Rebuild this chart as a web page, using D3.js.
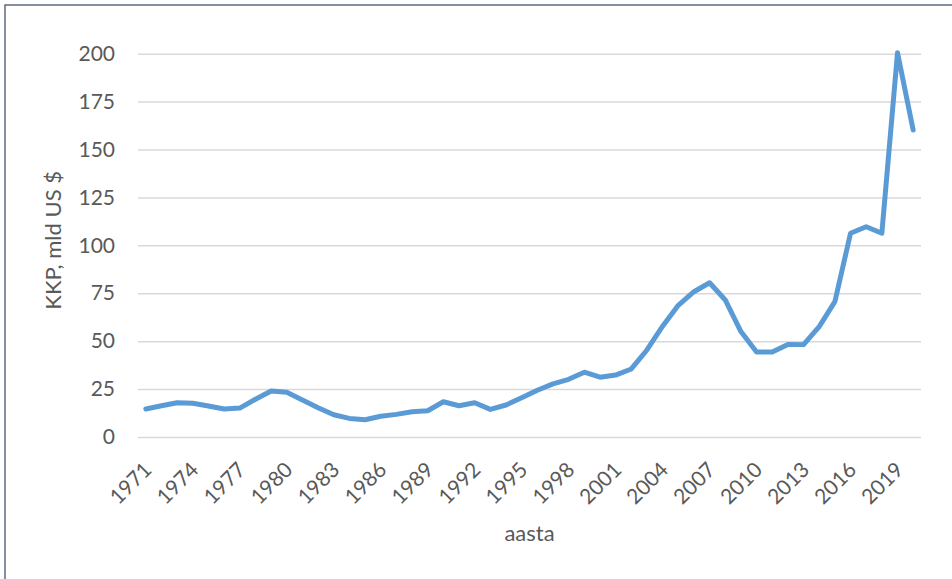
<!DOCTYPE html>
<html>
<head>
<meta charset="utf-8">
<script src="https://cdn.jsdelivr.net/npm/d3@7"></script>
<style>
  body { margin: 0; background: #fff; }
  svg text { font-family: Lato, "Open Sans", sans-serif; fill: #595959; }
</style>
</head>
<body>
<div id="chart"></div>
<script>
// yearly values, 1971..2020
const years = d3.range(1971, 2021);
const kkp = [
  14.6, 16.3, 17.9, 17.6, 16.2, 14.6, 15.1, 19.7, 24.0, 23.3,
  19.3, 15.3, 11.6, 9.7, 9.0, 10.8, 11.8, 13.2, 13.7, 18.4,
  16.3, 17.9, 14.4, 16.7, 20.5, 24.4, 27.7, 30.1, 33.8, 31.2,
  32.3, 35.5, 45.4, 57.8, 68.7, 75.8, 80.5, 71.5, 55.0, 44.4,
  44.4, 48.3, 48.2, 57.6, 70.6, 106.3, 109.7, 106.3, 200.5, 160.2
];
const yTicks = [0, 25, 50, 75, 100, 125, 150, 175, 200];
const xTickYears = years.filter(y => (y - 1971) % 3 === 0);

const width = 952, height = 579;
let margin = {top: 53.7, left: 138, right: 31, bottom: 142};

const svg = d3.select('#chart').append('svg')
  .attr('width', width)
  .attr('height', height);

// chart frame (only left/top edges visible)
svg.append('rect')
  .attr('x', 5).attr('y', 5)
  .attr('width', 960).attr('height', 600)
  .attr('fill', 'none')
  .attr('stroke', '#44546a')
  .attr('stroke-width', 1.3);

const g = svg.append('g')
  .attr('transform', `translate(${margin.left},${margin.top})`);

const innerW = width - margin.left - margin.right;
const innerH = height - margin.top - margin.bottom;

const x = d3.scaleBand().domain(years).range([0, innerW]);
const y = d3.scaleLinear().domain([0, 200]).range([innerH, 0]);

// gridlines
g.append('g')
  .call(d3.axisLeft(y).tickValues(yTicks).tickSize(-innerW).tickFormat(''))
  .call(a => a.select('.domain').remove())
  .call(a => a.selectAll('line').attr('stroke', '#d9d9d9').attr('stroke-width', 1.5));

// y tick labels
g.append('g')
  .call(d3.axisLeft(y).tickValues(yTicks).tickSize(0).tickPadding(23))
  .call(a => a.select('.domain').remove())
  .call(a => a.selectAll('text').attr('font-size', 21).attr('fill', '#595959')
    .style('font-family', 'Lato, sans-serif'));

// x axis labels, rotated
const xa = g.append('g')
  .attr('transform', `translate(0,${innerH})`)
  .call(d3.axisBottom(x).tickValues(xTickYears).tickSize(0))
  .call(a => a.select('.domain').remove());
xa.selectAll('text')
  .attr('font-size', 21)
  .attr('fill', '#595959')
  .style('font-family', 'Lato, sans-serif')
  .attr('text-anchor', 'end')
  .attr('dy', 0)
  .attr('transform', 'translate(5,32) rotate(-45)');

// line
const line = d3.line()
  .x((d, i) => x(years[i]) + x.bandwidth() / 2)
  .y(d => y(d));

g.append('path')
  .datum(kkp)
  .attr('fill', 'none')
  .attr('stroke', '#5b9bd5')
  .attr('stroke-width', 5)
  .attr('stroke-linejoin', 'round')
  .attr('stroke-linecap', 'round')
  .attr('d', line);

// axis titles
svg.append('text')
  .attr('x', margin.left + innerW / 2)
  .attr('y', 541)
  .attr('text-anchor', 'middle')
  .attr('font-size', 22)
  .text('aasta');

svg.append('text')
  .attr('transform', `translate(61,${margin.top + innerH / 2 - 5}) rotate(-90)`)
  .attr('text-anchor', 'middle')
  .attr('font-size', 22)
  .text('KKP, mld US $');
</script>
</body>
</html>
